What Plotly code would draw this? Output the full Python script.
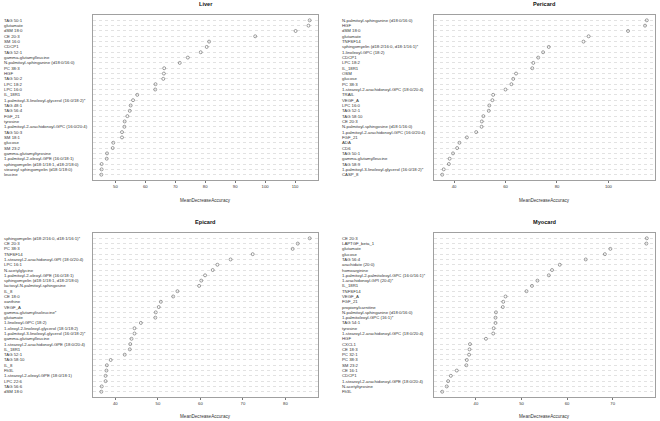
import plotly.graph_objects as go

# ---------------- data (top to bottom as displayed) ----------------
liver_labels = [
    "TAG 50:1", "glutamate", "dSM 18:0", "CE 20:3", "SM 16:0", "CDCP1", "TAG 52:1",
    "gamma-glutamylleucine", "N-palmitoyl-sphinganine (d18:0/16:0)", "PC 38:3", "HGF",
    "TAG 50:2", "LPC 18:2", "LPC 16:0", "IL_18R1",
    "1-palmitoyl-3-linoleoyl-glycerol (16:0/18:2)*", "TAG 48:1", "TAG 56:4", "FGF_21",
    "tyrosine", "1-palmitoyl-2-arachidonoyl-GPC (16:0/20:4)", "TAG 50:3", "SM 18:1",
    "glucose", "SM 23:2", "gamma-glutamyltyrosine", "1-palmitoyl-2-oleoyl-GPE (16:0/18:1)",
    "sphingomyelin (d18:1/18:1, d18:2/18:0)", "stearoyl sphingomyelin (d18:1/18:0)", "leucine",
]
liver_values = [
    114.9, 114.5, 110.2, 96.7, 81.3, 80.5, 78.5, 74.2, 71.5, 66.3, 66.2, 66.0, 63.4, 63.3,
    57.3, 55.9, 55.1, 54.8, 54.0, 53.1, 53.0, 52.2, 52.2, 49.3, 49.1, 47.2, 47.1, 45.4,
    45.4, 45.3,
]
liver_ticks = [50, 60, 70, 80, 90, 100, 110]

pericard_labels = [
    "N-palmitoyl-sphinganine (d18:0/16:0)", "HGF", "dSM 18:0", "glutamate", "TNFSF14",
    "sphingomyelin (d18:2/16:0, d18:1/16:1)*", "1-linoleoyl-GPC (18:2)", "CDCP1", "LPC 18:2",
    "IL_18R1", "OSM", "glucose", "PC 38:3", "1-stearoyl-2-arachidonoyl-GPC (18:0/20:4)",
    "TRAIL", "VEGF_A", "LPC 16:0", "TAG 52:1", "TAG 58:10", "CE 20:3",
    "N-palmitoyl-sphingosine (d18:1/16:0)", "1-palmitoyl-2-arachidonoyl-GPC (16:0/20:4)",
    "FGF_21", "ADA", "CD6", "TAG 50:1", "gamma-glutamylleucine", "TAG 58:9",
    "1-palmitoyl-3-linoleoyl-glycerol (16:0/18:2)*", "CASP_8",
]
pericard_values = [
    114.9, 114.2, 107.6, 92.3, 90.3, 76.8, 74.6, 72.7, 70.8, 70.4, 64.1, 63.0, 62.3, 60.0,
    55.2, 54.9, 53.7, 53.5, 51.4, 50.8, 50.7, 48.6, 45.0, 42.1, 41.2, 39.6, 38.3, 38.0,
    36.0, 35.4,
]
pericard_ticks = [40, 60, 80, 100]

epicard_labels = [
    "sphingomyelin (d18:2/16:0, d18:1/16:1)*", "CE 20:3", "PC 38:3", "TNFSF14",
    "1-stearoyl-2-arachidonoyl-GPI (18:0/20:4)", "LPC 16:1", "N-acetylglycine",
    "1-palmitoyl-2-oleoyl-GPE (16:0/18:1)", "sphingomyelin (d18:1/18:1, d18:2/18:0)",
    "lactosyl-N-palmitoyl-sphingosine", "IL_8", "CE 18:0", "xanthine", "VEGF_A",
    "gamma-glutamylisoleucine*", "glutamate", "1-linoleoyl-GPC (18:2)",
    "1-oleoyl-2-linoleoyl-glycerol (18:1/18:2)", "1-palmitoyl-3-linoleoyl-glycerol (16:0/18:2)*",
    "gamma-glutamylleucine", "1-stearoyl-2-arachidonoyl-GPE (18:0/20:4)", "IL_18R1",
    "TAG 52:1", "TAG 58:10", "IL_8", "Flt3L", "1-stearoyl-2-oleoyl-GPE (18:0/18:1)",
    "LPC 22:6", "TAG 56:6", "dSM 18:0",
]
epicard_values = [
    85.7, 82.9, 81.7, 72.3, 67.1, 64.0, 62.9, 61.1, 60.2, 59.7, 54.6, 53.6, 50.7, 50.2,
    49.5, 49.4, 46.0, 44.5, 44.5, 43.8, 43.5, 43.4, 42.2, 38.9, 38.0, 37.9, 37.7, 37.7,
    36.8, 36.7,
]
epicard_ticks = [40, 50, 60, 70, 80]

myocard_labels = [
    "CE 20:3", "LAPTGF_beta_1", "glutamate", "glucose", "TAG 56:4", "arachidate (20:0)",
    "homoarginine", "1-palmitoyl-2-palmitoleoyl-GPC (16:0/16:1)*", "1-arachidonoyl-GPI (20:4)*",
    "IL_18R1", "TNFSF14", "VEGF_A", "FGF_21", "propionylcarnitine",
    "N-palmitoyl-sphinganine (d18:0/16:0)", "1-palmitoleoyl-GPC (16:1)*", "TAG 54:1",
    "tyrosine", "1-stearoyl-2-arachidonoyl-GPC (18:0/20:4)", "HGF", "CXCL1", "CE 18:3",
    "PC 32:1", "PC 38:3", "SM 23:2", "CE 16:1", "CDCP1",
    "1-stearoyl-2-arachidonoyl-GPE (18:0/20:4)", "N-acetyltyrosine", "Flt3L",
]
myocard_values = [
    77.5, 77.4, 69.5, 68.3, 64.1, 58.4, 56.7, 56.0, 53.5, 52.3, 51.1, 46.5, 46.0, 45.9,
    44.4, 44.3, 44.3, 43.9, 43.8, 42.2, 38.7, 38.6, 38.5, 38.0, 37.9, 35.8, 34.5, 33.9,
    33.6, 32.6,
]
myocard_ticks = [40, 50, 60, 70]

panels = [
    ("Liver", liver_labels, liver_values, liver_ticks),
    ("Pericard", pericard_labels, pericard_values, pericard_ticks),
    ("Epicard", epicard_labels, epicard_values, epicard_ticks),
    ("Myocard", myocard_labels, myocard_values, myocard_ticks),
]

# ---------------- layout geometry (pixels) ----------------
W, H = 660, 421
xdoms = [(93, 318), (434, 655), (93, 318), (434, 655)]
ydoms = [(15, 180), (15, 180), (233, 397), (233, 397)]
label_x = [3, 341, 3, 341]
axis_title_y = [200, 200, 416.5, 416.5]

FONT = "Liberation Sans, Arial, sans-serif"
fig = go.Figure()
annotations = []

for k, (title, labels, values, ticks) in enumerate(panels):
    n = len(labels)
    ypos = [n - i for i in range(n)]
    ax = "" if k == 0 else str(k + 1)
    xa, ya = "x" + ax, "y" + ax
    fig.add_trace(go.Scatter(
        x=values, y=ypos, mode="markers", xaxis=xa, yaxis=ya,
        marker=dict(symbol="circle-open", size=3.0, color="#444444", line=dict(width=0.5)),
        showlegend=False, hoverinfo="x+text", text=labels,
    ))
    x0, x1 = xdoms[k]
    yt, yb = ydoms[k]
    vmin, vmax = min(values), max(values)
    pad = (vmax - vmin) * 0.04
    common_line = dict(showline=True, linecolor="#a0a0a0", linewidth=1, mirror=True, zeroline=False)
    fig.layout["xaxis" + ax] = dict(
        domain=[x0 / W, x1 / W], range=[vmin - pad, vmax + pad], anchor=ya,
        tickvals=ticks, ticks="outside", ticklen=2, tickwidth=0.6, tickcolor="#777777",
        tickfont=dict(size=4.2, family=FONT, color="#333333"), showgrid=False,
        **common_line,
    )
    fig.layout["yaxis" + ax] = dict(
        domain=[1 - yb / H, 1 - yt / H], range=[0, n + 1], anchor=xa,
        tickvals=ypos, showticklabels=False, ticks="",
        showgrid=True, gridcolor="#e2e2e2", gridwidth=0.5, griddash="dot",
        **common_line,
    )
    # row labels (left aligned like R's dotchart)
    for lab, yv in zip(labels, ypos):
        annotations.append(dict(
            text=lab, x=(label_x[k] - x0) / (x1 - x0), xref=xa + " domain",
            y=yv, yref=ya, xanchor="left", yanchor="middle", showarrow=False,
            borderpad=0, font=dict(size=4.3, family=FONT, color="#333333"),
        ))
    # panel title
    annotations.append(dict(
        text="<b>" + title + "</b>", x=(x0 + x1) / 2 / W, xref="paper",
        y=1 - (yt - 11) / H, yref="paper", xanchor="center", yanchor="middle",
        showarrow=False, borderpad=0, font=dict(size=5.6, family=FONT, color="#111111"),
    ))
    # x axis title
    annotations.append(dict(
        text="MeanDecreaseAccuracy", x=(x0 + x1) / 2 / W, xref="paper",
        y=1 - axis_title_y[k] / H, yref="paper", xanchor="center", yanchor="middle",
        showarrow=False, borderpad=0, font=dict(size=4.6, family=FONT, color="#333333"),
    ))

fig.update_layout(
    width=W, height=H, margin=dict(l=0, r=0, t=0, b=0),
    paper_bgcolor="white", plot_bgcolor="white",
    annotations=annotations,
)
fig.write_html(
    "out.html",
    config={"displayModeBar": False},
    post_script="document.body.style.margin='0';document.body.style.padding='0';",
)
